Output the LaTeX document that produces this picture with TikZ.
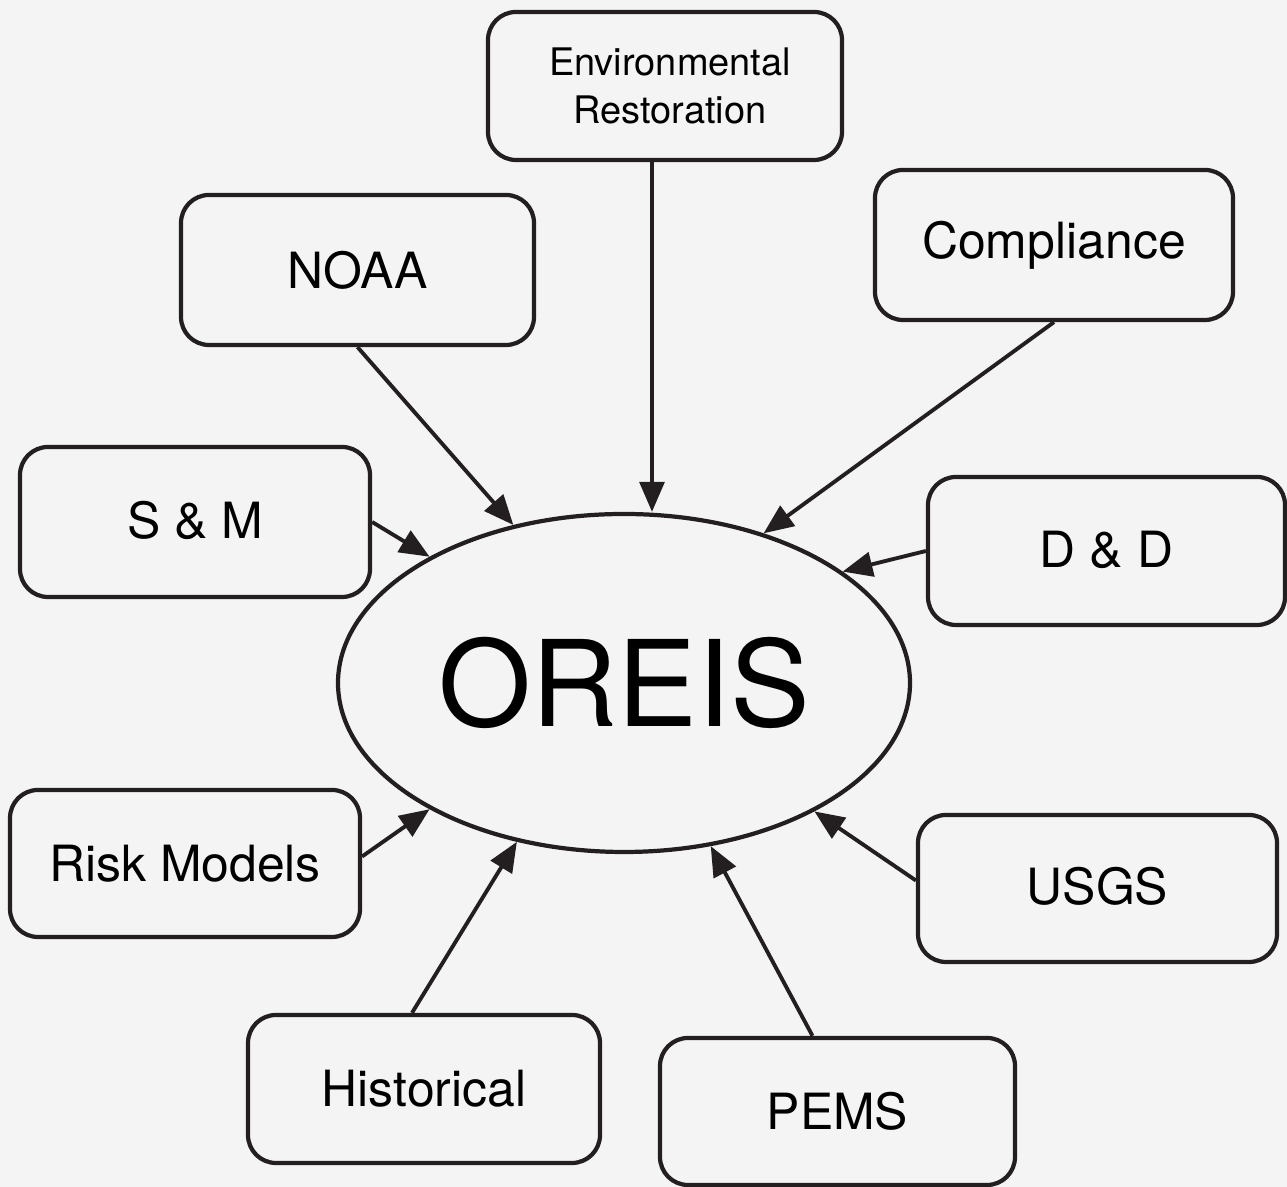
\documentclass[tikz,border=0pt]{standalone}
\usepackage{fontspec}
\setmainfont{TeX Gyre Heros}
\usepackage[dvipsnames]{xcolor}
\usepackage{tikz}
\usetikzlibrary{shapes.geometric, arrows.meta}

\definecolor{paper}{HTML}{F4F4F4}

\begin{document}
\begin{tikzpicture}[
    agency/.style = {draw=Black, line width=1.2pt, rounded corners=0.28cm,
      inner sep=0pt, font=\fontsize{14.2}{17}\selectfont},
    feed/.style = {draw=Black, line width=1.1pt,
      -{Triangle[length=8.5pt, width=7pt]}}
  ]
    \useasboundingbox (0, 0) rectangle (12.87, 11.87);
    \fill [paper] (0, 0) rectangle (12.87, 11.87);

    \begin{scope} % Hub
      \node [draw=Black, line width=1.2pt, ellipse, inner sep=0pt,
        minimum width=5.72cm, minimum height=3.38cm,
        font=\fontsize{34}{40}\selectfont] (OREIS) at (6.24, 5.04) {OREIS};
    \end{scope}

    \begin{scope} % Sources round the hub
      \node [agency, minimum width=3.54cm, minimum height=1.48cm, align=center,
        font=\fontsize{10.8}{13.4}\selectfont] (ER) at (6.65, 11.01)
        {\hspace{1mm}Environmental\\\hspace{1mm}Restoration};
      \node [agency, minimum width=3.53cm, minimum height=1.50cm] (NOAA)
        at (3.575, 9.17) {NOAA};
      \node [agency, minimum width=3.58cm, minimum height=1.50cm] (Comp)
        at (10.54, 9.42) {\raisebox{0.4mm}{Compliance}};
      \node [agency, minimum width=3.50cm, minimum height=1.50cm] (SM)
        at (1.95, 6.65) {\raisebox{0.5mm}{S \& M}};
      \node [agency, minimum width=3.57cm, minimum height=1.48cm] (DD)
        at (11.065, 6.36) {\raisebox{0.4mm}{D \& D}};
      \node [agency, minimum width=3.50cm, minimum height=1.47cm] (Risk)
        at (1.85, 3.235) {Risk Models};
      \node [agency, minimum width=3.59cm, minimum height=1.47cm] (USGS)
        at (10.975, 2.985) {\raisebox{0.6mm}{USGS}};
      \node [agency, minimum width=3.52cm, minimum height=1.48cm] (Hist)
        at (4.24, 0.98) {Historical};
      \node [agency, minimum width=3.55cm, minimum height=1.47cm] (PEMS)
        at (8.375, 0.755) {\raisebox{-0.5mm}{PEMS}};
    \end{scope}

    % Arrows into OREIS
    \draw [feed] ([xshift=-1.3mm]ER.south) -- ([xshift=-1.3mm]ER.south |- OREIS.north);
    \draw [feed] (NOAA.south) -- (OREIS.125);
    \draw [feed] (Comp.south) -- (OREIS.47);
    \draw [feed] (SM.east) -- (OREIS.147);
    \draw [feed] (DD.west) -- (OREIS.27);
    \draw [feed] ([yshift=0.7mm]Risk.east) -- (OREIS.213);
    \draw [feed] ([yshift=0.8mm]USGS.west) -- (OREIS.326);
    \draw [feed] ([xshift=-1.2mm]Hist.north) -- (OREIS.236);
    \draw [feed] ([xshift=-2.5mm]PEMS.north) -- (OREIS.298);
\end{tikzpicture}
\end{document}
